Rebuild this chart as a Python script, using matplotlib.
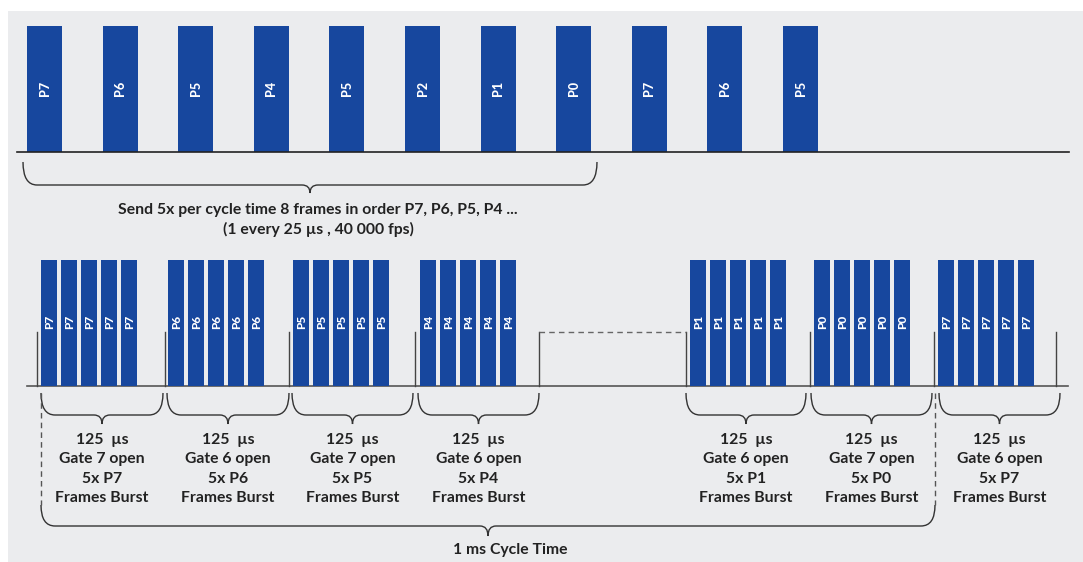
import matplotlib
matplotlib.use("Agg")
import matplotlib.pyplot as plt
from matplotlib.path import Path
from matplotlib.patches import PathPatch, Rectangle

# ---- data -------------------------------------------------------------
top_frames = ["P7", "P6", "P5", "P4", "P5", "P2", "P1", "P0", "P7", "P6", "P5"]
burst_frames = ["P7", "P6", "P5", "P4", "P1", "P0", "P7"]
burst_gates = [7, 6, 7, 6, 6, 7, 6]
frames_per_burst = 5
burst_us = 125
top_caption = ["Send 5x per cycle time 8 frames in order P7, P6, P5, P4 ...",
               "(1 every 25 µs , 40 000 fps)"]
cycle_caption = "1 ms Cycle Time"

# ---- layout (pixel coords) ---------------------------------------------
W, H = 1083, 562
BLUE = "#17479E"
BG = "#EBECEE"
INK = "#222222"
FONT = "Lato"
TXT = 11.3

top_x0, top_step, top_w = 27, 75.6, 35
top_y0, top_y1 = 26, 152
group_left = [41, 168, 293, 420, 690, 814, 938]
bar_step, bar_w = 20, 16
bot_y0, bot_y1 = 260, 386
tick_x = [37, 165, 289, 415, 539, 686, 810, 934, 1056]
tick_top = 332
brace_spans = [(41, 163), (167, 289), (292, 413), (418, 539),
               (686, 806), (811, 932), (939, 1060)]


def brace(ax, xa, xb, y0, y1, tip, r=14, lw=1.0, color="#333333"):
    xm = (xa + xb) / 2
    verts = [(xa, y0), (xa, y1), (xa + r, y1),
             (xm - 8, y1), (xm, y1), (xm, tip),
             (xm, y1), (xm + 8, y1),
             (xb - r, y1), (xb, y1), (xb, y0)]
    codes = [Path.MOVETO, Path.CURVE3, Path.CURVE3,
             Path.LINETO, Path.CURVE3, Path.CURVE3,
             Path.CURVE3, Path.CURVE3,
             Path.LINETO, Path.CURVE3, Path.CURVE3]
    ax.add_patch(PathPatch(Path(verts, codes), fill=False, lw=lw, ec=color))


fig = plt.figure(figsize=(W / 100, H / 100), dpi=100)
ax = fig.add_axes([0, 0, 1, 1])
ax.set_xlim(0, W)
ax.set_ylim(H, 0)
ax.axis("off")
ax.add_patch(Rectangle((8, 11), W - 8, H - 11, fc=BG, ec="none", zorder=0))

# top row of frames
xs = [top_x0 + i * top_step for i in range(len(top_frames))]
ax.bar(xs, top_y0 - top_y1, width=top_w, bottom=top_y1, align="edge",
       color=BLUE, zorder=2)
for x, lab in zip(xs, top_frames):
    ax.text(x + top_w / 2, 88, lab, rotation=90, ha="center", va="center",
            color="white", fontsize=9, fontweight="black", family=FONT, zorder=3)
ax.plot([17, 1069], [top_y1, top_y1], color="#222222", lw=1.2, zorder=3)
brace(ax, 23, 597, 162, 185, 193)
for k, line in enumerate(top_caption):
    ax.text(318, 210 + k * 19, line, ha="center", va="center", color=INK,
            fontsize=TXT, fontweight="bold", family=FONT)

# bottom row: bursts
for g, (x0, lab) in enumerate(zip(group_left, burst_frames)):
    bx = [x0 + j * bar_step for j in range(frames_per_burst)]
    ax.bar(bx, bot_y0 - bot_y1, width=bar_w, bottom=bot_y1, align="edge",
           color=BLUE, zorder=2)
    for x in bx:
        ax.text(x + bar_w / 2 + 0.5, 322, lab, rotation=90, ha="center", va="center",
                color="white", fontsize=8.5, fontweight="black", family=FONT, zorder=3)

ax.plot([27, 1068], [bot_y1, bot_y1], color="#555555", lw=1.2, zorder=1)
for x in tick_x:
    ax.plot([x, x], [tick_top, bot_y1], color="#444444", lw=1.0, zorder=1)
ax.plot([539, 686], [tick_top, tick_top], color="#666666", lw=1.0,
        ls=(0, (4, 3)), zorder=1)

for (xa, xb), lab, gate in zip(brace_spans, burst_frames, burst_gates):
    brace(ax, xa, xb, 393, 415, 424)
    xm = (xa + xb) / 2
    lines = [f"{burst_us}  µs", f"Gate {gate} open",
             f"{frames_per_burst}x {lab}", "Frames Burst"]
    for k, line in enumerate(lines):
        ax.text(xm, 440 + k * 19.3, line, ha="center", va="center", color=INK,
                fontsize=TXT, fontweight="bold", family=FONT)

# cycle brace: dashed legs + solid curve
for x in (41, 935):
    ax.plot([x, x], [393, 505], color="#555555", lw=1.0, ls=(0, (4, 3)))
brace(ax, 41, 935, 505, 526, 536)
ax.text(510, 550, cycle_caption, ha="center", va="center", color=INK,
        fontsize=TXT, fontweight="bold", family=FONT)

fig.savefig("out.png", dpi=100, facecolor="white")
